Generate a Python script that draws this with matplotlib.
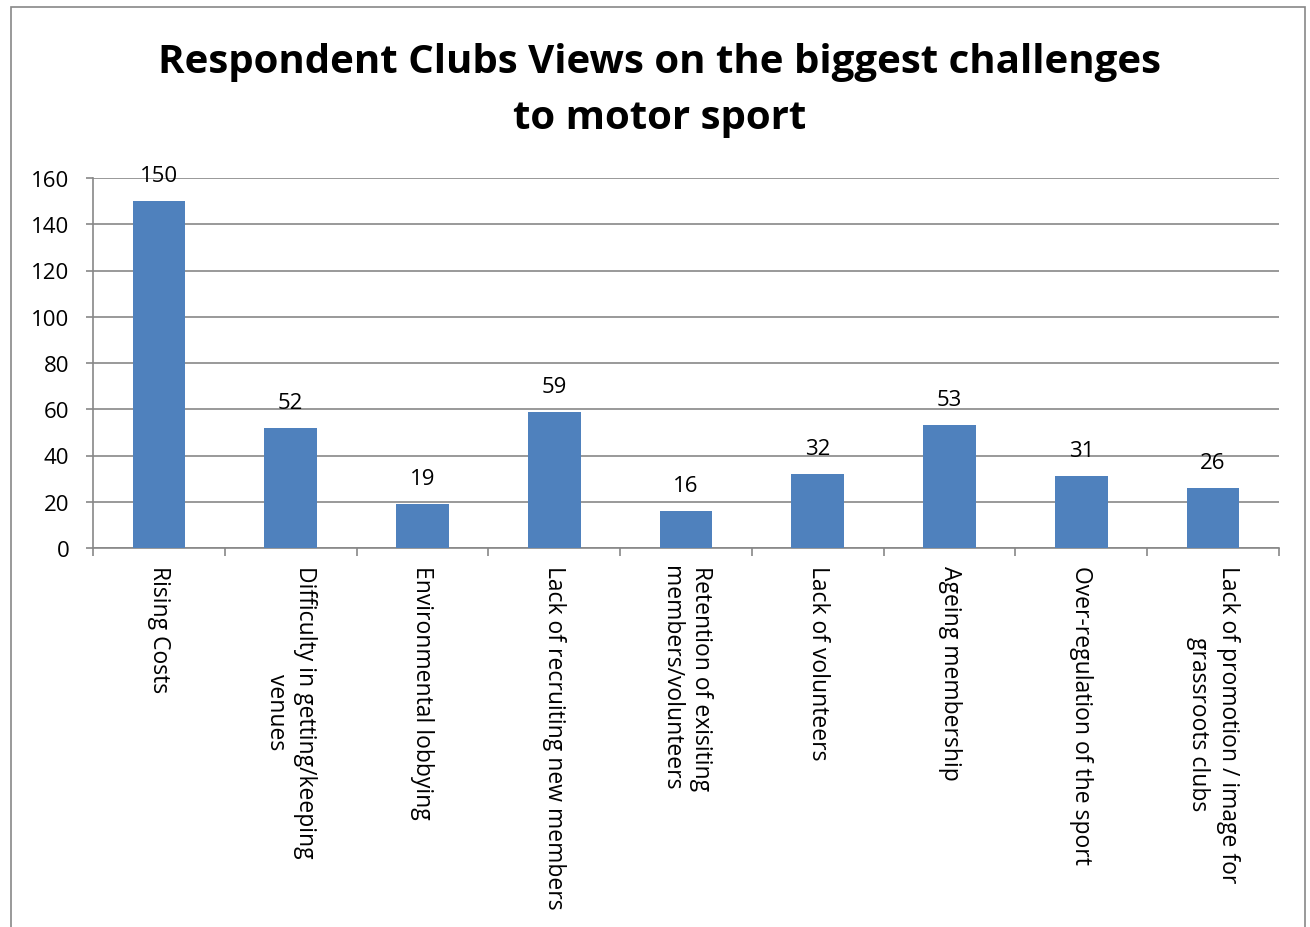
import matplotlib
matplotlib.use("Agg")
import matplotlib.pyplot as plt
import numpy as np
from matplotlib.patches import Rectangle

categories = [
    "Rising Costs",
    "Difficulty in getting/keeping\nvenues",
    "Environmental lobbying",
    "Lack of recruiting new members",
    "Retention of exisiting\nmembers/volunteers",
    "Lack of volunteers",
    "Ageing membership",
    "Over-regulation of the sport",
    "Lack of promotion / image for\ngrassroots clubs",
]
values = [150, 52, 19, 59, 16, 32, 53, 31, 26]
yticks = [0, 20, 40, 60, 80, 100, 120, 140, 160]

plt.rcParams['font.family'] = ['Open Sans', 'DejaVu Sans']

fig = plt.figure(figsize=(13.1, 9.28), dpi=100)
fig.patches.append(Rectangle((11/1310, -0.01), (1305-11)/1310, 1 - 8/928 + 0.01,
                             transform=fig.transFigure, fill=False,
                             edgecolor='#878787', linewidth=1.2))
ax = fig.add_axes([93/1310, 1-549/928, (1279-93)/1310, (549-179)/928])

x = np.arange(len(categories))
ax.bar(x, values, width=0.4, color='#4F81BD', zorder=3)
for xi, v in zip(x, values):
    ax.text(xi, v + 6.5, str(v), ha='center', va='bottom', fontsize=16, color='black')

ax.set_xlim(-0.5, len(categories) - 0.5)
ax.set_ylim(0, 160)
ax.set_yticks(yticks)
ax.set_yticklabels([str(t) for t in yticks], fontsize=16)
ax.yaxis.grid(True, color='#878787', linewidth=1.2, zorder=0)
ax.set_axisbelow(True)

ax.set_xticks(np.arange(-0.5, len(categories), 1.0))
ax.set_xticklabels([])
ax.set_xticks(x, minor=True)
ax.set_xticklabels(categories, minor=True, rotation=-90, fontsize=16.5,
                   va='center', ha='left', rotation_mode='anchor',
                   multialignment='center', linespacing=1.3)
ax.tick_params(axis='x', which='minor', length=0, pad=12)
ax.tick_params(axis='x', which='major', length=6, width=1.2, color='#878787', direction='out')
ax.tick_params(axis='y', length=5, width=1.2, color='#878787', direction='out', pad=12)

for s in ['top', 'right']:
    ax.spines[s].set_visible(False)
for s in ['left', 'bottom']:
    ax.spines[s].set_color('#878787')
    ax.spines[s].set_linewidth(1.2)

fig.text(660/1310, 1-62/928, "Respondent Clubs Views on the biggest challenges",
         ha='center', va='center', fontsize=29, fontweight='bold')
fig.text(660/1310, 1-119/928, "to motor sport",
         ha='center', va='center', fontsize=29, fontweight='bold')

fig.savefig("out.png", dpi=100)
